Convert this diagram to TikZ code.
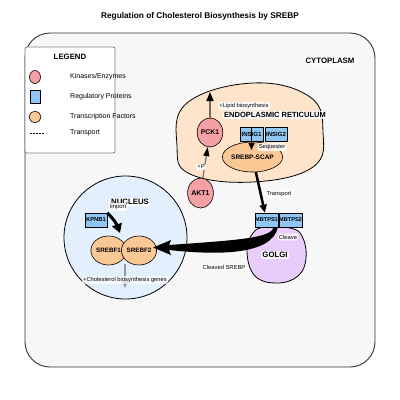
\documentclass[tikz,border=0pt]{standalone}
\usepackage{fontspec}
\setmainfont{Liberation Sans}
\usetikzlibrary{shapes.geometric,arrows.meta,calc}
\definecolor{enz}{HTML}{F4A0A4}
\definecolor{reg}{HTML}{90C6F4}
\definecolor{tf}{HTML}{F9C894}
\definecolor{erfill}{HTML}{FDE4CB}
\definecolor{nucfill}{HTML}{E3EFFD}
\definecolor{golfill}{HTML}{E8CDFA}
\definecolor{cytfill}{HTML}{F7F7F7}
\definecolor{brownline}{HTML}{7A6A5C}
\begin{document}
\begin{tikzpicture}[x=1pt,y=-1pt,
 enzyme/.style={ellipse, draw=black, line width=0.6pt, fill=enz, inner sep=0pt, font=\fontsize{6.8}{8}\selectfont\bfseries},
 regbox/.style={rectangle, draw=black, line width=0.6pt, fill=reg, inner sep=0pt, minimum width=23pt, minimum height=14pt, font=\fontsize{5.8}{7}\selectfont\bfseries},
 tfac/.style={ellipse, draw=black, line width=0.6pt, fill=tf, inner sep=0pt, font=\fontsize{6.3}{7}\selectfont\bfseries},
 lbl/.style={fill=white, fill opacity=0.85, text opacity=1, rounded corners=1.5pt, inner sep=1.2pt, font=\fontsize{5.8}{7}\selectfont},
 region/.style={fill=white, fill opacity=0.85, text opacity=1, rounded corners=1.5pt, inner sep=1.2pt, font=\fontsize{7.8}{9}\selectfont\bfseries},
 legtext/.style={anchor=west, inner sep=0pt, font=\fontsize{7}{8}\selectfont},
]
\useasboundingbox (0,0) rectangle (400,400);
\fill[white] (0,0) rectangle (400,400);

% title
\node[font=\fontsize{8.3}{10}\selectfont\bfseries] (title) at (200,16) {Regulation of Cholesterol Biosynthesis by SREBP};

% cytoplasm
\draw[fill=cytfill, draw=black!80, line width=0.9pt, rounded corners=25pt] (25,33) rectangle (375,367);
\node[region] (cyto) at (330,61) {CYTOPLASM};

% legend
\draw[fill=white, draw=black!50, line width=0.8pt, rounded corners=2pt] (25,47) rectangle (115,153);
\node[font=\fontsize{7.8}{9}\selectfont\bfseries] (legtitle) at (70,57) {LEGEND};
\node[enzyme, minimum width=11pt, minimum height=13pt] (legenz) at (35,77) {};
\node[legtext] (legenzt) at (70,77) {Kinases/Enzymes};
\node[regbox, minimum width=10pt, minimum height=13pt] (legreg) at (35,97) {};
\node[legtext] (legregt) at (70,97) {Regulatory Proteins};
\node[tfac, minimum width=12pt, minimum height=11pt] (legtf) at (35,117) {};
\node[legtext] (legtft) at (70,117) {Transcription Factors};
\coordinate (legdashA) at (30,133);
\coordinate (legdashB) at (44,133);
\draw[line width=0.8pt, dash pattern=on 2pt off 1pt] (legdashA) -- (legdashB);
\node[legtext] (legtrt) at (70,133) {Transport};

% compartments
\draw[fill=erfill, line width=0.8pt] plot[smooth cycle, tension=0.7] coordinates {(177,146) (187,103) (253,83) (310,97) (323,132) (313,167) (253,182) (190,174)};
\draw[fill=nucfill, line width=0.8pt] (125.5,237.5) circle[radius=61.5];
\draw[fill=golfill, line width=0.8pt] plot[smooth cycle, tension=0.7] coordinates {(247,252) (253,233) (266,227) (290,228) (302,236) (306,258) (298,276) (277,283) (255,276)};

% region labels
\node[region, font=\fontsize{7.5}{9}\selectfont\bfseries] (erlbl) at (275,115) {ENDOPLASMIC RETICULUM};
\node[region] (nuclbl) at (130,202) {NUCLEUS};
\node[region] (gollbl) at (275,255) {GOLGI};

% molecules
\node[enzyme, minimum width=22pt, minimum height=29pt] (pck1) at (210,132.5) {PCK1};
\node[enzyme, minimum width=23pt, minimum height=30pt, font=\fontsize{7}{8}\selectfont\bfseries] (akt1) at (200.5,193) {AKT1};
\node[regbox, font=\fontsize{6}{7}\selectfont\bfseries] (insig1) at (251.5,134) {INSIG1};
\node[regbox, minimum width=22pt, font=\fontsize{6}{7}\selectfont\bfseries] (insig2) at (276,134) {INSIG2};
\node[tfac, minimum width=49pt, minimum height=30pt, font=\fontsize{6.5}{7}\selectfont\bfseries] (srebpscap) at (252.5,157) {SREBP-SCAP};
\node[regbox, font=\fontsize{5.6}{7}\selectfont\bfseries] (mbtps1) at (266.5,220) {MBTPS1};
\node[regbox, font=\fontsize{5.6}{7}\selectfont\bfseries] (mbtps2) at (290.5,220) {MBTPS2};
\node[regbox, minimum width=22pt] (kpnb1) at (96,220) {KPNB1};
\node[tfac, minimum width=29pt, minimum height=29pt] (srebf1) at (108.5,250.5) {SREBF1};
\node[tfac, minimum width=32pt, minimum height=29pt] (srebf2) at (139,250.5) {SREBF2};

% connectors
\coordinate (lipidtip) at (210,92);
\draw[draw=brownline, line width=1.6pt, -{Triangle[length=9pt,width=7pt,color=black]}] (pck1) -- (lipidtip);
\draw[draw=black!55, line width=1.2pt, -{Triangle[length=9pt,width=6pt,color=black]}] (akt1) -- (pck1);
\coordinate (seqtip) at (251.5,150);
\draw[line width=1.5pt, -{Triangle[length=7pt,width=6pt]}] (insig1.north) -- (seqtip);
\draw[line width=2.5pt, -{Triangle[length=8pt,width=7pt]}] (srebpscap) -- (mbtps1);
\coordinate (importtip) at (120,233);
\draw[line width=3pt, -{Triangle[length=9pt,width=10pt]}] (kpnb1.north east) to[bend left=12] (importtip);
\coordinate (tfjoin) at (125,264);
\coordinate (genestip) at (125,288);
\draw[draw=black!40, line width=1.2pt, -{Triangle[length=7pt,width=6pt]}] (tfjoin) -- (genestip);
% cleaved SREBP transport (Golgi to nucleus)
\fill[black] (274,227) .. controls (271,238) and (240,240) .. (169,245) -- (171,240) -- (153,247.5) -- (171,255) -- (169,250) .. controls (215,255) and (272,256) .. (278,227) -- cycle;

% small labels
\node[lbl] (lipidlbl) at (244,106) {+Lipid biosynthesis};
\node[lbl] (seqlbl) at (272,147) {Sequester};
\node[lbl] (plbl) at (201,167) {+P};
\node[lbl] (translbl) at (279,194) {Transport};
\node[lbl] (cleavelbl) at (288,237) {Cleave};
\node[lbl] (cleavedlbl) at (224,267) {Cleaved SREBP};
\node[lbl] (importlbl) at (118,207) {Import};
\node[lbl, fill opacity=0.7] (geneslbl) at (125,280) {+Cholesterol biosynthesis genes};
\end{tikzpicture}
\end{document}
